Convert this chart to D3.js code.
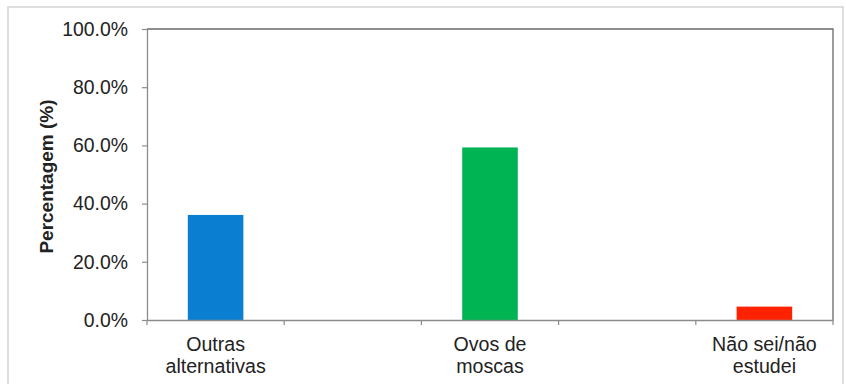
<!DOCTYPE html>
<html>
<head>
<meta charset="utf-8">
<script src="https://cdn.jsdelivr.net/npm/d3@7"></script>
<style>
  html, body { margin: 0; padding: 0; background: #fff; }
  svg { display: block; }
  text { font-family: "Liberation Sans", Arial, sans-serif; fill: #222; }
</style>
</head>
<body>
<svg id="chart" width="846" height="384"></svg>
<script>
// ---- data ----
const categories = ["Outras alternativas", "", "Ovos de moscas", "", "Não sei/não estudei"];
const labelLines = [["Outras", "alternativas"], [], ["Ovos de", "moscas"], [], ["Não sei/não", "estudei"]];
const values = [36.1, null, 59.3, null, 4.6];
const barColors = ["#0a7fd1", null, "#00b453", null, "#ff2200"];
const yTicks = [0, 20, 40, 60, 80, 100];
const yTitle = "Percentagem (%)";

// ---- layout ----
const W = 846, H = 384;
const m = { left: 147, right: 13, top: 29, bottom: 64 };
const svg = d3.select("#chart");

// outer frame
svg.append("rect")
  .attr("x", 8).attr("y", 7).attr("width", 835).attr("height", 380)
  .attr("fill", "none").attr("stroke", "#d4d4d4").attr("stroke-width", 1.5);

const x = d3.scaleBand()
  .domain(d3.range(categories.length))
  .range([m.left, W - m.right])
  .paddingInner(0).paddingOuter(0);

const y = d3.scaleLinear().domain([0, 100]).range([H - m.bottom, m.top]);

const bw = x.bandwidth();
const barW = bw * 0.405;

// plot box (top & right)
svg.append("path")
  .attr("d", `M${m.left},${m.top}H${W - m.right}V${H - m.bottom}`)
  .attr("fill", "none").attr("stroke", "#6a6a6a").attr("stroke-width", 1.3);

// bars
const idx = d3.range(categories.length).filter(i => values[i] != null);
svg.append("g").selectAll("rect").data(idx).join("rect")
  .attr("x", i => x(i) + (bw - barW) / 2)
  .attr("width", barW)
  .attr("y", i => y(values[i]))
  .attr("height", i => y(0) - y(values[i]))
  .attr("fill", i => barColors[i]);

// y axis
const gy = svg.append("g")
  .attr("transform", `translate(${m.left},0)`)
  .call(d3.axisLeft(y).tickValues(yTicks)
    .tickFormat(d => d.toFixed(1) + "%")
    .tickSize(5).tickPadding(14).tickSizeOuter(0));
gy.select(".domain").attr("stroke", "#8c8c8c").attr("stroke-width", 1.3);
gy.selectAll(".tick line").attr("stroke", "#8c8c8c").attr("stroke-width", 1.2);
gy.selectAll(".tick text").attr("font-size", 19.4).attr("fill", "#222")
  .style("font-family", "'Liberation Sans', Arial, sans-serif");

// x axis
const gx = svg.append("g")
  .attr("transform", `translate(0,${H - m.bottom})`)
  .call(d3.axisBottom(x).tickSize(0).tickSizeOuter(0).tickFormat(""));
gx.select(".domain").attr("stroke", "#8c8c8c").attr("stroke-width", 1.3);
gx.selectAll(".tick").remove();

// boundary ticks
const bounds = d3.range(categories.length).map(i => x(i)).concat([x.range()[1]]);
gx.selectAll("line.bt").data(bounds).join("line")
  .attr("class", "bt")
  .attr("x1", d => d).attr("x2", d => d)
  .attr("y1", 0).attr("y2", 5)
  .attr("stroke", "#8c8c8c").attr("stroke-width", 1.2);

// category labels
const lg = svg.append("g");
d3.range(categories.length).forEach(i => {
  const t = lg.append("text")
    .attr("x", x(i) + bw / 2)
    .attr("y", H - m.bottom + 31)
    .attr("text-anchor", "middle")
    .attr("font-size", 19.6);
  labelLines[i].forEach((ln, k) => {
    t.append("tspan").attr("x", x(i) + bw / 2).attr("dy", k === 0 ? 0 : 22).text(ln);
  });
});

// y title
svg.append("text")
  .attr("transform", `translate(53,${(y(0) + y(100)) / 2 + 2}) rotate(-90)`)
  .attr("text-anchor", "middle")
  .attr("font-size", 19)
  .attr("font-weight", "bold")
  .text(yTitle);
</script>
</body>
</html>
